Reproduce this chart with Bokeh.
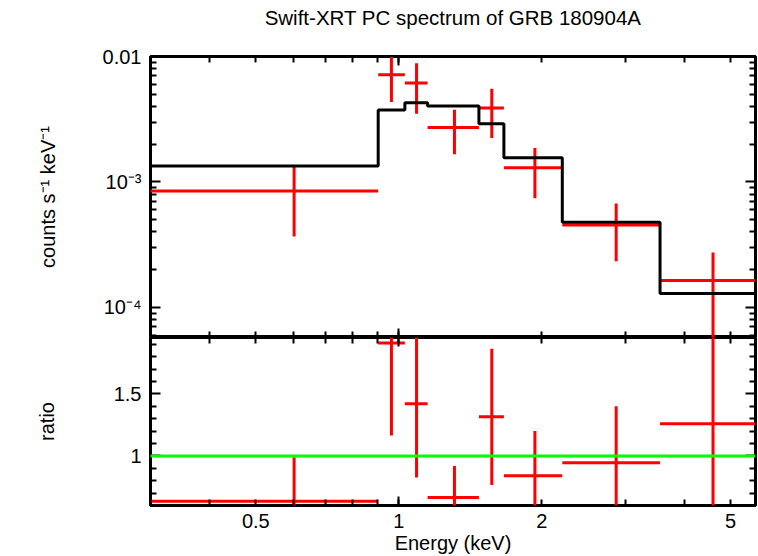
import numpy as np
from bokeh.plotting import figure
from bokeh.layouts import column
from bokeh.models import FixedTicker, LogAxis, LinearAxis, Range1d, Span, Label
from bokeh.embed import file_html
from bokeh.resources import INLINE

# ---- data ----
bin_lo = [0.30, 0.905, 1.03, 1.15, 1.475, 1.665, 2.21, 3.55]
bin_hi = [0.905, 1.03, 1.15, 1.475, 1.665, 2.21, 3.55, 5.64]
energy = [0.602, 0.965, 1.09, 1.31, 1.57, 1.935, 2.87, 4.59]
rate = [8.47e-4, 7.14e-3, 6.16e-3, 2.71e-3, 3.89e-3, 1.30e-3, 4.53e-4, 1.64e-4]
rate_err = [4.8e-4, 2.8e-3, 2.66e-3, 1.05e-3, 1.65e-3, 5.6e-4, 2.2e-4, 1.1e-4]
model = [1.34e-3, 3.74e-3, 4.28e-3, 4.03e-3, 2.91e-3, 1.56e-3, 4.76e-4, 1.29e-4]
ratio = [0.635, 1.91, 1.42, 0.665, 1.315, 0.84, 0.945, 1.26]
ratio_err = [0.355, 0.745, 0.595, 0.254, 0.55, 0.36, 0.455, 0.85]

x_major = [0.5, 1, 2, 5]
x_minor = [0.3, 0.4, 0.6, 0.7, 0.8, 0.9, 3, 4]
x_labels = {0.5: "0.5", 1: "1", 2: "2", 5: "5"}
y_major = [1e-4, 1e-3, 1e-2]
y_minor = [k * 10.0 ** e for e in (-5, -4, -3) for k in range(2, 10)]
y_labels = {1e-4: "10⁻⁴", 1e-3: "10⁻³", 1e-2: "0.01"}
r_major = [1.0, 1.5]
r_minor = [0.6, 0.7, 0.8, 0.9, 1.1, 1.2, 1.3, 1.4, 1.6, 1.7, 1.8, 1.9]
r_labels = {1.0: "1", 1.5: "1.5"}
title_text = "Swift-XRT PC spectrum of GRB 180904A"

X_MIN, X_MAX = 0.3, 5.64
Y_MIN, Y_MAX = 5.75e-5, 1e-2
R_MIN, R_MAX = 0.6, 1.955

FONT = "Liberation Sans"
FS = "20px"
TITLE_H, TOP_GAP = 40, 16
LEFT, RIGHT = 150, 3
FW, FH1, FH2 = 605, 281, 168

rate_a = np.array(rate)
rerr_a = np.array(rate_err)
ratio_a = np.array(ratio)
ratio_err_a = np.array(ratio_err)


def style(ax, major_in=6, minor_in=6):
    ax.major_tick_in = major_in
    ax.major_tick_out = 0
    ax.minor_tick_in = minor_in
    ax.minor_tick_out = 0
    ax.major_tick_line_width = 2
    ax.minor_tick_line_width = 2
    ax.major_tick_line_color = "black"
    ax.minor_tick_line_color = "black"
    ax.axis_line_color = None
    ax.major_label_text_font = FONT
    ax.major_label_text_font_size = FS
    ax.major_label_text_color = "black"
    ax.axis_label_text_font = FONT
    ax.axis_label_text_font_style = "normal"
    ax.axis_label_text_font_size = FS
    ax.axis_label_text_color = "black"
    return ax


def tick_only(plot, cls, side, loc, positions, length):
    # label-free axis pinned to the frame edge (takes no space)
    ax = cls(ticker=FixedTicker(ticks=[], minor_ticks=positions), fixed_location=loc)
    style(ax, 0, length)
    plot.add_layout(ax, side)


def new_fig(frame_h, y_type, y_range, top, bottom):
    p = figure(frame_width=FW, frame_height=frame_h, x_axis_type="log", y_axis_type=y_type,
               x_range=Range1d(X_MIN, X_MAX), y_range=y_range,
               x_axis_location=None, y_axis_location=None,
               output_backend="svg", toolbar_location=None,
               min_border_left=LEFT, min_border_right=RIGHT,
               min_border_top=top, min_border_bottom=bottom)
    p.grid.visible = False
    p.outline_line_color = "black"
    p.outline_line_width = 3
    return p


# ---- title strip (same frame geometry as the panels below) ----
pt = figure(frame_width=FW, frame_height=TITLE_H, x_range=Range1d(0, FW),
            y_range=Range1d(TITLE_H, 0), x_axis_location=None, y_axis_location=None,
            output_backend="svg", toolbar_location=None,
            min_border_left=LEFT, min_border_right=RIGHT, min_border_top=0, min_border_bottom=0)
pt.grid.visible = False
pt.outline_line_color = None
pt.add_layout(Label(x=FW / 2, y=17, text=title_text, text_font=FONT,
                    text_font_size="20.5px", text_color="black",
                    text_align="center", text_baseline="middle"))

# ---- top panel ----
p1 = new_fig(FH1, "log", Range1d(Y_MIN, Y_MAX), TOP_GAP, 0)

ay = style(LogAxis(ticker=FixedTicker(ticks=y_major, minor_ticks=y_minor)), 10, 6)
ay.major_label_overrides = y_labels
ay.major_label_standoff = 9
ay.axis_label = "counts s⁻¹ keV⁻¹"
ay.axis_label_standoff = 41
p1.add_layout(ay, "left")

for side, loc in (("above", Y_MAX), ("below", Y_MIN)):
    tick_only(p1, LogAxis, side, loc, x_major + x_minor, 6)
    tick_only(p1, LogAxis, side, loc, [1], 9)
tick_only(p1, LogAxis, "right", X_MAX, y_minor, 6)
tick_only(p1, LogAxis, "right", X_MAX, y_major, 10)

p1.segment(x0=bin_lo, y0=rate, x1=bin_hi, y1=rate, line_color="#ff0000", line_width=3)
p1.segment(x0=energy, y0=rate_a - rerr_a, x1=energy, y1=rate_a + rerr_a,
           line_color="#ff0000", line_width=3)
p1.step(x=bin_lo + [bin_hi[-1]], y=model + [model[-1]], mode="after",
        line_color="black", line_width=3)

# ---- ratio panel ----
p2 = new_fig(FH2, "linear", Range1d(R_MIN, R_MAX), 0, 46)
p2.x_range = p1.x_range

bx = style(LogAxis(ticker=FixedTicker(ticks=x_major, minor_ticks=x_minor)), 6, 6)
bx.major_label_overrides = x_labels
bx.major_label_standoff = 8
bx.axis_label = "Energy (keV)"
bx.axis_label_standoff = 1
p2.add_layout(bx, "below")
tick_only(p2, LogAxis, "below", R_MIN, [1], 9)

by = style(LinearAxis(ticker=FixedTicker(ticks=r_major, minor_ticks=r_minor)), 10, 6)
by.major_label_overrides = r_labels
by.major_label_standoff = 9
by.axis_label = "ratio"
by.axis_label_standoff = 53
p2.add_layout(by, "left")

tick_only(p2, LogAxis, "above", R_MAX, x_major + x_minor, 6)
tick_only(p2, LogAxis, "above", R_MAX, [1], 9)
tick_only(p2, LinearAxis, "right", X_MAX, r_minor, 6)
tick_only(p2, LinearAxis, "right", X_MAX, r_major, 10)

p2.segment(x0=bin_lo, y0=ratio, x1=bin_hi, y1=ratio, line_color="#ff0000", line_width=3)
p2.segment(x0=energy, y0=ratio_a - ratio_err_a, x1=energy, y1=ratio_a + ratio_err_a,
           line_color="#ff0000", line_width=3)
p2.add_layout(Span(location=1.0, dimension="width", line_color="#00ff00", line_width=3))

layout = column(pt, p1, p2, spacing=0)
open("out.html", "w").write(file_html(layout, INLINE))
